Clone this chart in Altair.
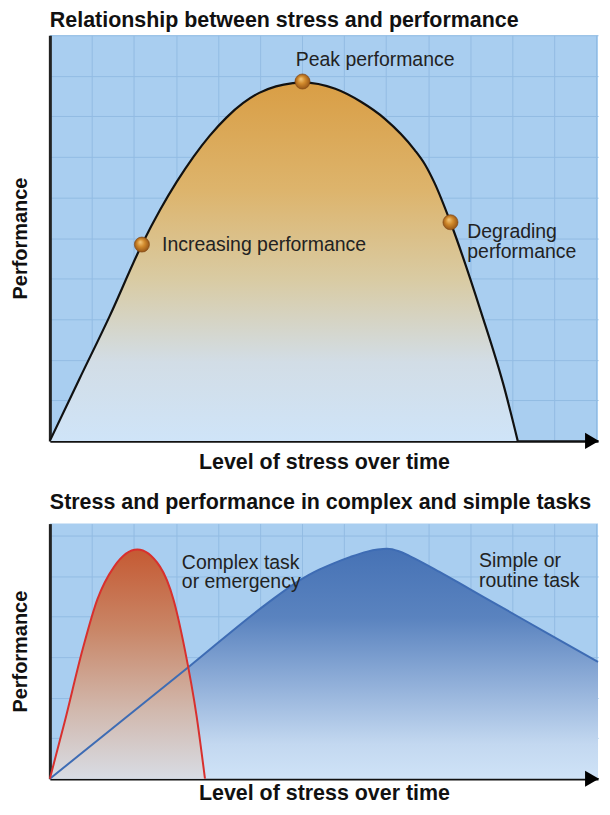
import altair as alt
import pandas as pd

# ---------------- data ----------------
# top panel: stress vs performance curve (x: stress level, y: performance)
top_x = [0.0, 0.70, 1.42, 2.19, 2.62, 3.02, 3.42, 3.80, 4.20, 4.60, 4.98, 5.38, 5.78, 6.01,
         6.79, 7.40, 7.97, 8.68, 8.92, 9.15, 9.53, 10.26, 10.80, 11.13]
top_y = [0.0, 1.52, 3.07, 4.84, 5.69, 6.39, 7.01, 7.52, 7.97, 8.33, 8.58, 8.74, 8.82, 8.84,
         8.68, 8.36, 7.94, 7.17, 6.82, 6.36, 5.39, 3.17, 1.35, 0.0]

dot_x = [2.19, 6.01, 9.53]
dot_y = [4.84, 8.86, 5.39]

top_labels = ["Peak performance", "Increasing performance", "Degrading\nperformance"]
top_label_x = [5.85, 2.67, 9.93]
top_label_y = [9.39, 4.82, 5.14]

# bottom panel: complex task (red) and simple task (blue)
complex_x = [0.0, 0.35, 0.78, 1.13, 1.53, 2.08, 2.62, 2.94, 3.21, 3.49, 3.69]
complex_y = [0.0, 1.39, 3.19, 4.42, 5.23, 5.65, 5.23, 4.42, 3.19, 1.55, 0.0]

simple_x = [0.0, 3.33, 5.14, 5.97, 6.32, 6.75, 7.15, 7.55, 7.80, 8.02, 8.30, 8.56, 9.27, 9.98, 10.68, 11.86, 13.04]
simple_y = [0.0, 2.78, 4.30, 4.91, 5.11, 5.31, 5.47, 5.60, 5.65, 5.67, 5.61, 5.49, 5.10, 4.68, 4.27, 3.57, 2.88]

bottom_labels = ["Complex task\nor emergency", "Simple or\nroutine task"]
bottom_label_x = [3.14, 10.21]
bottom_label_y = [5.33, 5.36]

grid_x = list(range(0, 14))
grid_y_top = list(range(0, 11))
grid_y_bottom = list(range(0, 7))

# ---------------- styling ----------------
FONT = "Liberation Sans"
BG = "#A9CEF0"
GRID = "#93BCE3"
W = 550
H_TOP = 407
H_BOT = 256

top_df = pd.DataFrame({"x": top_x, "y": top_y})
dot_df = pd.DataFrame({"x": dot_x, "y": dot_y})
top_lab_df = pd.DataFrame({"x": top_label_x, "y": top_label_y, "t": top_labels})
cx_df = pd.DataFrame({"x": complex_x, "y": complex_y})
sx_df = pd.DataFrame({"x": simple_x, "y": simple_y})
bot_lab_df = pd.DataFrame({"x": bottom_label_x, "y": bottom_label_y, "t": bottom_labels})


def xenc(pad):
    return alt.X(
        "x:Q",
        scale=alt.Scale(domain=[0, 13.04], nice=False, zero=False),
        axis=alt.Axis(
            values=grid_x, grid=True, gridColor=GRID, gridWidth=1, labels=False, ticks=False,
            domainColor="#111111", domainWidth=2.5,
            title="Level of stress over time", titleFont=FONT, titleFontSize=21.5,
            titleFontWeight="bold", titleColor="#111111", titlePadding=pad,
        ),
    )


def yenc(top, vals):
    return alt.Y(
        "y:Q",
        scale=alt.Scale(domain=[0, top], nice=False, zero=False),
        axis=alt.Axis(
            values=vals, grid=True, gridColor=GRID, gridWidth=1, labels=False, ticks=False,
            domainColor="#222222", domainWidth=3,
            title="Performance", titleFont=FONT, titleFontSize=20,
            titleFontWeight="bold", titleColor="#111111", titlePadding=19,
        ),
    )


def lin(stops):
    return alt.Gradient(
        gradient="linear",
        stops=[alt.GradientStop(color=c, offset=o) for o, c in stops],
        x1=0, x2=0, y1=0, y2=1,
    )


def arrow(h):
    return alt.Chart(pd.DataFrame({"a": [0]})).mark_point(
        shape="triangle-right", filled=True, size=260, color="#000000", opacity=1
    ).encode(x=alt.value(W - 6), y=alt.value(h))


# ---------------- top panel ----------------
X1 = xenc(11)
Y1 = yenc(10, grid_y_top)

top_area = alt.Chart(top_df).mark_area(
    interpolate="monotone",
    color=lin([(0, "#D99E45"), (0.3, "#DDB46C"), (0.55, "#D9CBA3"), (0.78, "#D2DDE6"), (1, "#CFE4F8")]),
).encode(x=X1, y=Y1)

top_line = alt.Chart(top_df).mark_line(
    interpolate="monotone", color="#111111", strokeWidth=2.2
).encode(x=X1, y=Y1)

dots = alt.Chart(dot_df).mark_point(
    filled=True, size=230, opacity=1, stroke="#7A4210", strokeWidth=0.6,
    fill=alt.Gradient(
        gradient="radial",
        stops=[alt.GradientStop(color="#F6CB7E", offset=0), alt.GradientStop(color="#D18A2C", offset=0.45),
               alt.GradientStop(color="#8E4E14", offset=1)],
        x1=0.38, y1=0.32, r1=0, x2=0.5, y2=0.5, r2=0.55,
    ),
).encode(x=X1, y=Y1)

top_text = alt.Chart(top_lab_df).mark_text(
    align="left", baseline="middle", font=FONT, fontSize=19.5, color="#222222",
    lineBreak="\n", lineHeight=20,
).encode(x=X1, y=Y1, text="t:N")

top_chart = alt.layer(top_area, top_line, dots, top_text, arrow(H_TOP)).properties(
    width=W, height=H_TOP,
    title=alt.TitleParams("Relationship between stress and performance", anchor="start", frame="group",
                          font=FONT, fontSize=21.5, fontWeight="bold", color="#111111", offset=4),
)

# ---------------- bottom panel ----------------
X2 = xenc(4)
Y2 = yenc(6.29, grid_y_bottom)

simple_area = alt.Chart(sx_df).mark_area(
    interpolate="monotone",
    color=lin([(0, "#4672B5"), (0.3, "#5A83BF"), (0.6, "#93B1DA"), (0.85, "#C3D8F0"), (1, "#CFE3F7")]),
).encode(x=X2, y=Y2)

complex_area = alt.Chart(cx_df).mark_area(
    interpolate="monotone",
    color=lin([(0, "#C55A33"), (0.35, "#C98667"), (0.7, "#D1B8AD"), (1, "#D8DCE4")]),
).encode(x=X2, y=Y2)

simple_line = alt.Chart(sx_df).mark_line(
    interpolate="monotone", color="#3E6CB4", strokeWidth=2
).encode(x=X2, y=Y2)

complex_line = alt.Chart(cx_df).mark_line(
    interpolate="monotone", color="#D8302E", strokeWidth=2
).encode(x=X2, y=Y2)

bot_text = alt.Chart(bot_lab_df).mark_text(
    align="left", baseline="middle", font=FONT, fontSize=19.5, color="#222222",
    lineBreak="\n", lineHeight=20,
).encode(x=X2, y=Y2, text="t:N")

bottom_chart = alt.layer(simple_area, complex_area, simple_line, complex_line, bot_text,
                         arrow(H_BOT)).properties(
    width=W, height=H_BOT,
    title=alt.TitleParams("Stress and performance in complex and simple tasks", anchor="start", frame="group",
                          font=FONT, fontSize=21.5, fontWeight="bold", color="#111111", offset=10),
)

chart = alt.vconcat(top_chart, bottom_chart, spacing=18).properties(
    padding={"left": 3, "top": 0, "right": 0, "bottom": 0}
).configure_view(fill=BG, stroke=None).configure_axis(gridOpacity=1)

chart.save("out.html", embed_options={"renderer": "svg", "actions": False})
